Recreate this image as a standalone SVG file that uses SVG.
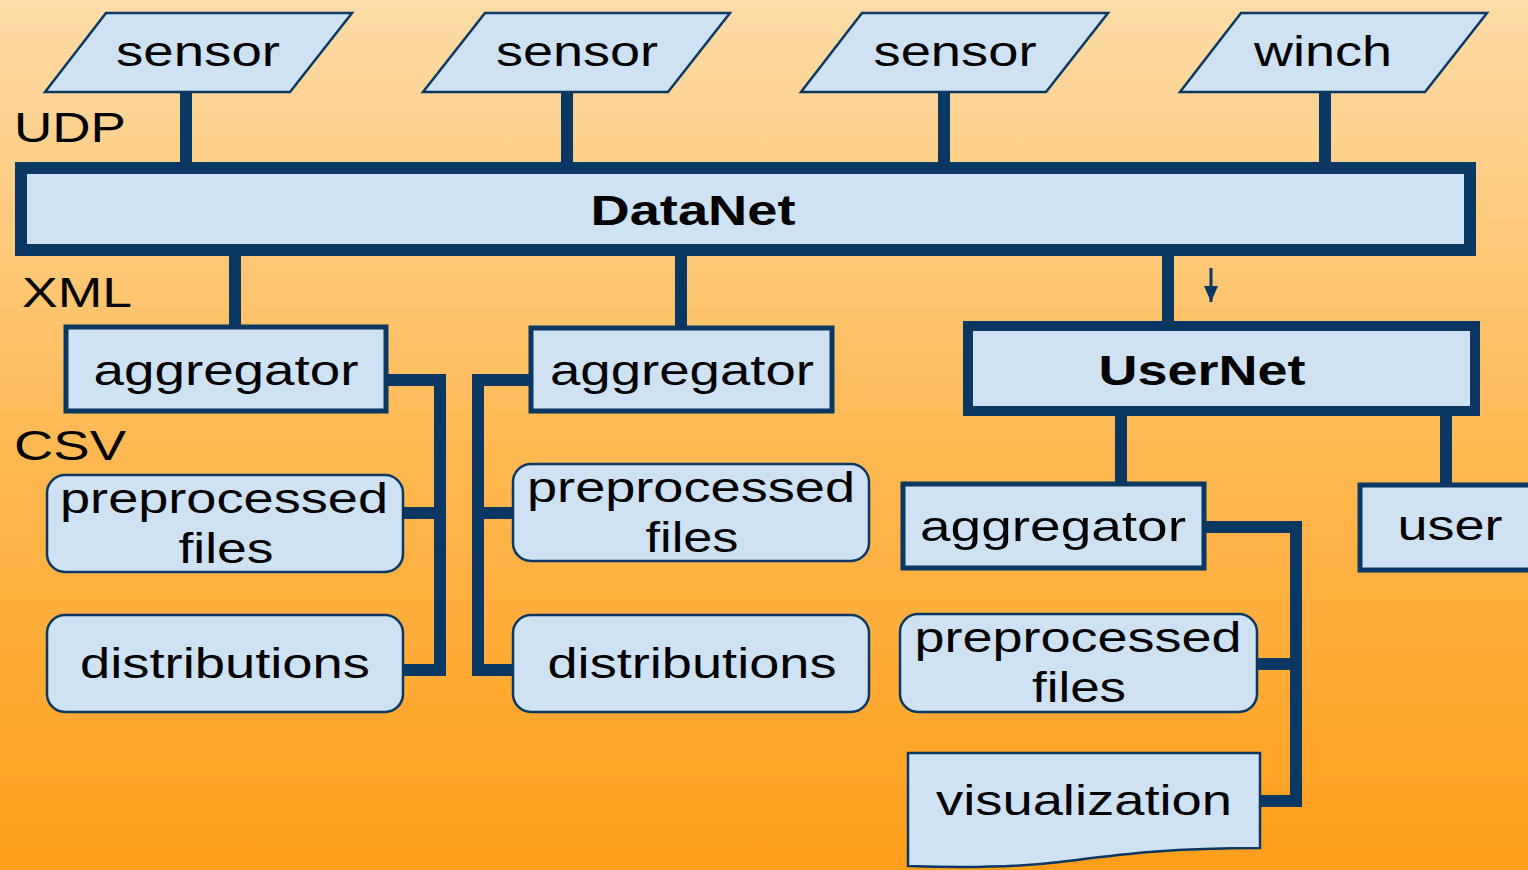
<svg xmlns="http://www.w3.org/2000/svg" width="1528" height="870" viewBox="0 0 1528 870">
<defs>
<linearGradient id="bg" x1="0" y1="0" x2="0" y2="1">
<stop offset="0" stop-color="#FDDCA8"/>
<stop offset="0.5" stop-color="#FEBA55"/>
<stop offset="1" stop-color="#FF9E1A"/>
</linearGradient>
<marker id="ah" viewBox="0 0 10 10" refX="10" refY="5" markerWidth="16" markerHeight="14" markerUnits="userSpaceOnUse" orient="auto" preserveAspectRatio="none">
<path d="M0,0 L10,5 L0,10 Z" fill="#0B3763"/>
</marker>
<style>
.box{fill:#CFE2F3;stroke:#0B3763;stroke-width:2.5}
.agg{fill:#CFE2F3;stroke:#0B3763;stroke-width:5}
.t{font-family:"Liberation Sans",Arial,sans-serif;font-size:42px;fill:#000;text-anchor:middle}
.b{font-weight:bold}
.lbl{font-family:"Liberation Sans",Arial,sans-serif;font-size:42px;fill:#000}
.c{fill:none;stroke:#0B3763;stroke-width:12;stroke-linecap:square}
</style>
</defs>
<rect x="0" y="0" width="1528" height="870" fill="url(#bg)"/>

<g id="connectors">
<path class="c" d="M186,98 V162 M567,98 V162 M944,98 V162 M1325,98 V162"/>
<path class="c" d="M235,258 V322 M681,258 V322 M1168,258 V318"/>
<path class="c" d="M391,380 H440 V670 H406 M406,513 H438"/>
<path class="c" d="M526,380 H478 V670 H510 M510,513 H478"/>
<path class="c" d="M1121,420 V480 M1446,420 V480"/>
<path class="c" d="M1209,527 H1296 V801 H1263 M1260,664 H1296"/>
<line x1="1211" y1="268" x2="1211" y2="302" stroke="#0B3763" stroke-width="3" marker-end="url(#ah)"/>
</g>

<g id="sensor1"><polygon class="box" points="106,13 352,13 290,92 45,92"/><text class="t" x="198" y="66" textLength="164" lengthAdjust="spacingAndGlyphs">sensor</text></g>
<g id="sensor2"><polygon class="box" points="485,13 730,13 668,92 423,92"/><text class="t" x="577" y="66" textLength="162" lengthAdjust="spacingAndGlyphs">sensor</text></g>
<g id="sensor3"><polygon class="box" points="862,13 1108,13 1046,92 801,92"/><text class="t" x="955" y="66" textLength="163" lengthAdjust="spacingAndGlyphs">sensor</text></g>
<g id="winch"><polygon class="box" points="1241,13 1487,13 1425,92 1180,92"/><text class="t" x="1323" y="66" textLength="138" lengthAdjust="spacingAndGlyphs">winch</text></g>

<g id="labels">
<text class="lbl" x="14" y="142" textLength="112" lengthAdjust="spacingAndGlyphs">UDP</text>
<text class="lbl" x="22" y="307" textLength="110" lengthAdjust="spacingAndGlyphs">XML</text>
<text class="lbl" x="14" y="460" textLength="112" lengthAdjust="spacingAndGlyphs">CSV</text>
</g>

<g id="datanet"><rect x="21" y="168" width="1449" height="82" fill="#CFE2F3" stroke="#0B3763" stroke-width="12"/><text class="t b" x="693" y="225" textLength="205" lengthAdjust="spacingAndGlyphs">DataNet</text></g>

<g id="aggregator1"><rect class="agg" x="66" y="327" width="320" height="84"/><text class="t" x="226" y="385" textLength="265" lengthAdjust="spacingAndGlyphs">aggregator</text></g>
<g id="aggregator2"><rect class="agg" x="531" y="328" width="301" height="83"/><text class="t" x="682" y="385" textLength="264" lengthAdjust="spacingAndGlyphs">aggregator</text></g>
<g id="usernet"><rect x="968" y="326" width="507" height="85" fill="#CFE2F3" stroke="#0B3763" stroke-width="10"/><text class="t b" x="1202" y="385" textLength="207" lengthAdjust="spacingAndGlyphs">UserNet</text></g>

<g id="preprocessed1"><rect class="box" x="47" y="475" width="356" height="97" rx="18"/><text class="t" x="224" y="513" textLength="328" lengthAdjust="spacingAndGlyphs">preprocessed</text><text class="t" x="226" y="563" textLength="95" lengthAdjust="spacingAndGlyphs">files</text></g>
<g id="distributions1"><rect class="box" x="47" y="615" width="356" height="97" rx="18"/><text class="t" x="225" y="678" textLength="290" lengthAdjust="spacingAndGlyphs">distributions</text></g>
<g id="preprocessed2"><rect class="box" x="513" y="464" width="356" height="97" rx="18"/><text class="t" x="691" y="502" textLength="328" lengthAdjust="spacingAndGlyphs">preprocessed</text><text class="t" x="692" y="552" textLength="93" lengthAdjust="spacingAndGlyphs">files</text></g>
<g id="distributions2"><rect class="box" x="513" y="615" width="356" height="97" rx="18"/><text class="t" x="692" y="678" textLength="289" lengthAdjust="spacingAndGlyphs">distributions</text></g>

<g id="aggregator3"><rect class="agg" x="903" y="484" width="301" height="84"/><text class="t" x="1053" y="541" textLength="266" lengthAdjust="spacingAndGlyphs">aggregator</text></g>
<g id="user"><rect class="agg" x="1360" y="485" width="180" height="85"/><text class="t" x="1450" y="540" textLength="105" lengthAdjust="spacingAndGlyphs">user</text></g>
<g id="preprocessed3"><rect class="box" x="900" y="614" width="357" height="98" rx="18"/><text class="t" x="1078" y="652" textLength="327" lengthAdjust="spacingAndGlyphs">preprocessed</text><text class="t" x="1079" y="702" textLength="94" lengthAdjust="spacingAndGlyphs">files</text></g>
<g id="visualization"><path class="box" d="M908,753 H1260 V848 C1160,848 1110,856 1060,862 C1010,868 960,868 908,866 Z"/><text class="t" x="1084" y="815" textLength="296" lengthAdjust="spacingAndGlyphs">visualization</text></g>
</svg>
